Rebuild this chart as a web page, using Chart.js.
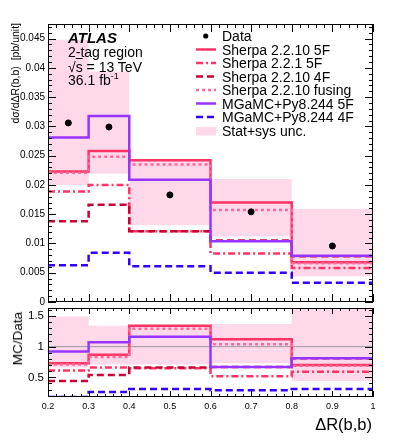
<!DOCTYPE html>
<html>
<head>
<meta charset="utf-8">
<script src="https://cdn.jsdelivr.net/npm/chart.js@4.4.0/dist/chart.umd.min.js"></script>
<style>
  body { margin: 0; background: #fff; }
  #wrap { position: relative; width: 399px; height: 440px; font-family: "Liberation Sans", Arial, sans-serif; color: #000; }
  canvas { position: absolute; left: 0; top: 0; }
  .txt { position: absolute; white-space: nowrap; line-height: 16px; }
  .leg { position: absolute; left: 222px; white-space: nowrap; font-size: 14px; line-height: 14px; }
  .vert { position: absolute; writing-mode: vertical-rl; transform: rotate(180deg); white-space: nowrap; }
  #legsvg { position: absolute; left: 190px; top: 20px; }
</style>
</head>
<body>
<div id="wrap">
  <canvas id="main" width="399" height="440"></canvas>
  <canvas id="ratio" width="399" height="440"></canvas>

  <div class="txt" style="left:68px; top:30px; font-size:15px; font-weight:bold; font-style:italic;">ATLAS</div>
  <div class="txt" style="left:68px; top:44px; font-size:14px;">2-tag region</div>
  <div class="txt" style="left:68px; top:59px; font-size:14px;">√<span style="text-decoration:overline">s</span> = 13 TeV</div>
  <div class="txt" style="left:68px; top:72px; font-size:14px;">36.1 fb<sup style="font-size:9px; vertical-align:6px; line-height:0;">-1</sup></div>

  <svg id="legsvg" width="32" height="120"></svg>
  <div class="leg" style="top:29px;">Data</div>
  <div class="leg" style="top:42.5px;">Sherpa 2.2.10 5F</div>
  <div class="leg" style="top:56px;">Sherpa 2.2.1 5F</div>
  <div class="leg" style="top:69.5px;">Sherpa 2.2.10 4F</div>
  <div class="leg" style="top:83px;">Sherpa 2.2.10 fusing</div>
  <div class="leg" style="top:96.5px;">MGaMC+Py8.244 5F</div>
  <div class="leg" style="top:110px;">MGaMC+Py8.244 4F</div>
  <div class="leg" style="top:123.5px;">Stat+sys unc.</div>

  <div class="vert" style="left:9px; top:23px; font-size:10.5px;">dσ/dΔR(b,b)&nbsp;&nbsp;[pb/unit]</div>
  <div class="vert" style="left:10px; top:312px; font-size:13.5px;">MC/Data</div>
  <div class="txt" style="right:27px; top:415px; font-size:16.5px; line-height:18px;">ΔR(b,b)</div>
</div>

<script>
// --- Data ---
const binEdges = [0.2, 0.3, 0.4, 0.6, 0.8, 1.0];
const binCentres = [0.25, 0.35, 0.5, 0.7, 0.9];

const dataXsec = [0.0306, 0.0299, 0.0183, 0.0154, 0.00957];
const bandHigh = [0.0448, 0.0394, 0.0243, 0.0210, 0.0159];
const bandLow = [0.0200, 0.0219, 0.0131, 0.0112, 0.0044];

const sherpa5F = [0.0223, 0.0258, 0.0242, 0.0170, 0.0068];
const sherpa221 = [0.0189, 0.0200, 0.0121, 0.0083, 0.0058];
const sherpa4F = [0.0138, 0.0166, 0.0121, 0.0105, 0.0078];
const sherpaFusing = [0.0221, 0.0248, 0.0235, 0.0157, 0.0066];
const mg5F = [0.0281, 0.0318, 0.0209, 0.0104, 0.0079];
const mg4F = [0.0063, 0.0084, 0.0061, 0.0050, 0.0033];

// MC/Data ratios
const ratioBandHigh = [1.49, 1.34, 1.35, 1.37, 1.66];
const ratioBandLow = [0.66, 0.71, 0.71, 0.73, 0.44];
const ratio5F = [0.73, 0.87, 1.34, 1.12, 0.70];
const ratio221 = [0.61, 0.66, 0.65, 0.52, 0.59];
const ratio4F = [0.44, 0.54, 0.66, 0.67, 0.81];
const ratioFusing = [0.71, 0.83, 1.29, 1.04, 0.69];
const ratioMg5F = [0.92, 1.07, 1.16, 0.67, 0.81];
const ratioMg4F = [0.18, 0.26, 0.31, 0.29, 0.31];
const unityLine = [1, 1];

// tick labels
const xTicks = [0.2, 0.3, 0.4, 0.5, 0.6, 0.7, 0.8, 0.9, 1];
const yTicksMain = [0, 0.005, 0.01, 0.015, 0.02, 0.025, 0.03, 0.035, 0.04, 0.045];
const yTicksRatio = [0.5, 1, 1.5];

const FONT = "'Liberation Sans', Arial, sans-serif";
const BAND = "#ffd9ea";

const series = [
  { name: "Sherpa 2.2.10 5F", main: sherpa5F, ratio: ratio5F, color: "#ff3366", dash: [] },
  { name: "Sherpa 2.2.1 5F", main: sherpa221, ratio: ratio221, color: "#ff3366", dash: [7, 3, 2, 3] },
  { name: "Sherpa 2.2.10 4F", main: sherpa4F, ratio: ratio4F, color: "#cc0033", dash: [7, 4] },
  { name: "Sherpa 2.2.10 fusing", main: sherpaFusing, ratio: ratioFusing, color: "#ff6699", dash: [3, 3] },
  { name: "MGaMC+Py8.244 5F", main: mg5F, ratio: ratioMg5F, color: "#9933ff", dash: [] },
  { name: "MGaMC+Py8.244 4F", main: mg4F, ratio: ratioMg4F, color: "#3300ff", dash: [7, 4] },
];

// histogram values -> points at bin edges for a stepped line
function steps(vals) {
  return binEdges.map((x, i) => ({ x, y: vals[Math.min(i, vals.length - 1)] }));
}

function histSets(key) {
  return series.map((s, i) => ({
    label: s.name,
    data: steps(s[key]),
    stepped: true,
    borderColor: s.color,
    borderDash: s.dash,
    borderWidth: 2.5,
    pointRadius: 0,
    fill: false,
    order: 10 - i,
  }));
}

function bandSets(hi, lo) {
  return [
    { label: "band hi", data: steps(hi), stepped: true, borderWidth: 0, pointRadius: 0, backgroundColor: BAND, fill: "+1", order: 20 },
    { label: "band lo", data: steps(lo), stepped: true, borderWidth: 0, pointRadius: 0, fill: false, order: 21 },
  ];
}

// --- Inward ticks + frame (ROOT style) ---
const frameTicks = {
  id: "frameTicks",
  afterDraw(chart, args, opts) {
    const { ctx, chartArea: a, scales } = chart;
    ctx.save();
    ctx.strokeStyle = "#000";
    ctx.lineWidth = 1;
    ctx.beginPath();
    const xs = scales.x, ys = scales.y;
    for (let i = 0; ; i++) {
      const v = opts.xStart + i * opts.xMinor;
      if (v > xs.max + 1e-9) break;
      const major = Math.abs(v / opts.xMajor - Math.round(v / opts.xMajor)) < 1e-6;
      const len = major ? opts.xLen : opts.xLen / 2;
      const px = Math.round(xs.getPixelForValue(v)) + 0.5;
      ctx.moveTo(px, a.bottom); ctx.lineTo(px, a.bottom - len);
      ctx.moveTo(px, a.top); ctx.lineTo(px, a.top + len);
    }
    for (let i = 0; ; i++) {
      const v = opts.yStart + i * opts.yMinor;
      if (v > ys.max + 1e-9) break;
      const major = Math.abs(v / opts.yMajor - Math.round(v / opts.yMajor)) < 1e-6;
      const len = major ? opts.yLen : opts.yLen / 2;
      const py = Math.round(ys.getPixelForValue(v)) + 0.5;
      ctx.moveTo(a.left, py); ctx.lineTo(a.left + len, py);
      ctx.moveTo(a.right, py); ctx.lineTo(a.right - len, py);
    }
    ctx.stroke();
    ctx.strokeRect(a.left + 0.5, a.top + 0.5, a.width - 1, a.height - 1);
    ctx.restore();
  }
};

function xScale(showLabels, height) {
  return {
    type: "linear", min: 0.2, max: 1.0,
    grid: { display: false, drawTicks: false },
    border: { display: false },
    ticks: { display: showLabels, color: "#000", padding: 4, font: { family: FONT, size: 9 }, callback: v => String(v) },
    afterBuildTicks: s => { s.ticks = xTicks.map(v => ({ value: v })); },
    afterFit: s => { s.height = height; },
  };
}

// --- Upper panel ---
new Chart(document.getElementById("main"), {
  type: "line",
  data: {
    datasets: [
      {
        label: "Data",
        data: binCentres.map((x, i) => ({ x, y: dataXsec[i] })),
        showLine: false,
        pointRadius: 3,
        pointBackgroundColor: "#000",
        pointBorderColor: "#000",
        order: 0,
      },
      ...histSets("main"),
      ...bandSets(bandHigh, bandLow),
    ]
  },
  options: {
    responsive: false,
    animation: false,
    layout: { padding: { left: 0, right: 26, top: 24, bottom: 138 } },
    plugins: { legend: { display: false }, tooltip: { enabled: false },
      frameTicks: { xStart: 0.2, xMinor: 0.02, xMajor: 0.1, xLen: 8, yStart: 0, yMinor: 0.001, yMajor: 0.005, yLen: 8 } },
    scales: {
      x: xScale(false, 0),
      y: {
        min: 0, max: 0.0475,
        grid: { display: false, drawTicks: false },
        border: { display: false },
        ticks: { color: "#000", padding: 3, font: { family: FONT, size: 10 }, callback: v => String(+v.toFixed(4)) },
        afterBuildTicks: s => { s.ticks = yTicksMain.map(v => ({ value: v })); },
        afterFit: s => { s.width = 48; },
      }
    }
  },
  plugins: [frameTicks]
});

// --- Ratio panel ---
new Chart(document.getElementById("ratio"), {
  type: "line",
  data: {
    datasets: [
      ...histSets("ratio"),
      { label: "unity", data: [0.2, 1.0].map((x, i) => ({ x, y: unityLine[i] })), borderColor: "#999", borderWidth: 1, pointRadius: 0, order: 15 },
      ...bandSets(ratioBandHigh, ratioBandLow),
    ]
  },
  options: {
    responsive: false,
    animation: false,
    layout: { padding: { left: 0, right: 26, top: 308, bottom: 0 } },
    plugins: { legend: { display: false }, tooltip: { enabled: false },
      frameTicks: { xStart: 0.2, xMinor: 0.02, xMajor: 0.1, xLen: 6, yStart: 0.2, yMinor: 0.1, yMajor: 0.5, yLen: 8 } },
    scales: {
      x: xScale(true, 43),
      y: {
        min: 0.18, max: 1.63,
        grid: { display: false, drawTicks: false },
        border: { display: false },
        ticks: { color: "#000", padding: 4, font: { family: FONT, size: 11.5 }, callback: v => String(v) },
        afterBuildTicks: s => { s.ticks = yTicksRatio.map(v => ({ value: v })); },
        afterFit: s => { s.width = 48; },
      }
    }
  },
  plugins: [frameTicks]
});

// --- Legend samples ---
const svg = document.getElementById("legsvg");
let marks = '<circle cx="15.7" cy="16" r="2.6" fill="#000"/>';
series.forEach((s, i) => {
  const y = 29.5 + i * 13.5;
  marks += `<line x1="6" x2="26" y1="${y}" y2="${y}" stroke="${s.color}" stroke-width="2.5" stroke-dasharray="${s.dash.join(" ") || "none"}"/>`;
});
marks += `<rect x="6" y="107" width="20" height="8.5" fill="${BAND}"/>`;
svg.innerHTML = marks;
</script>
</body>
</html>
